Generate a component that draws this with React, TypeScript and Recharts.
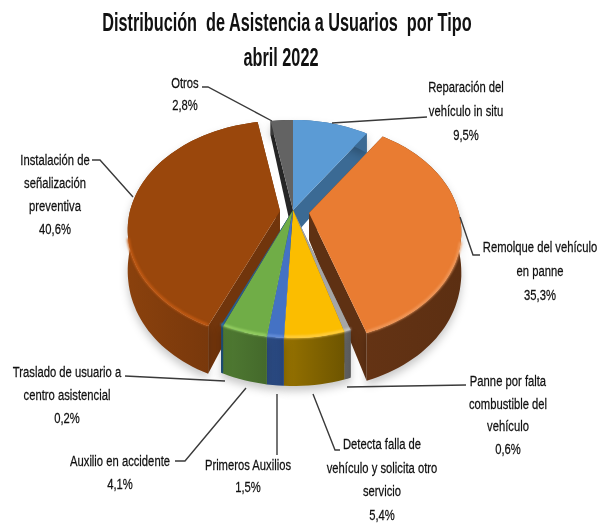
import { PieChart, Pie } from "recharts"

const categories = [
  "Reparación del vehículo in situ",
  "Remolque del vehículo en panne",
  "Panne por falta combustible del vehículo",
  "Detecta falla de vehículo y solicita otro servicio",
  "Primeros Auxilios",
  "Auxilio en accidente",
  "Traslado de usuario a centro asistencial",
  "Instalación de señalización preventiva",
  "Otros",
]
const shares = [9.5, 35.3, 0.6, 5.4, 1.5, 4.1, 0.2, 40.6, 2.8]
const colors = ["#5b9bd5", "#e97c32", "#a5a5a5", "#fbbd00", "#4472c4", "#70ad47", "#255e91", "#9a470c", "#636363"]
const cutColors = ["#3b6a94", "#5f3113", "#666666", "#8f6c00", "#2a4a80", "#4a7230", "#1c4a70", "#71350c", "#262626"]
const wallFrom = ["#3b6a94", "#643314", "#6a6a6a", "#967200", "#2c4c84", "#4f7a32", "#1c4a70", "#8a410d", "#3a3a3a"]
const wallTo = ["#3b6a94", "#5c2f12", "#5a5a5a", "#6e5500", "#26447a", "#44692b", "#1c4a70", "#6e330b", "#3a3a3a"]
const rimColors = ["#7fb4e4", "#f29a5c", "#c8c8c8", "#ffd04a", "#6a92dc", "#9ad466", "#3c80bc", "#c65c14", "#888888"]
const explodeX = [0, 16, 0, 0, 0, 0, 0, -13, 0]
const explodeY = [0, 3, 0, 0, 0, 0, 0, 1, 0]

// text lines of every label, last one is the share
const labelLines = [
  ["Reparación del", "vehículo in situ", "9,5%"],
  ["Remolque del vehículo", "en panne", "35,3%"],
  ["Panne por falta", "combustible del", "vehículo", "0,6%"],
  ["Detecta falla de", "vehículo y solicita otro", "servicio", "5,4%"],
  ["Primeros Auxilios", "1,5%"],
  ["Auxilio en accidente", "4,1%"],
  ["Traslado de usuario a", "centro asistencial", "0,2%"],
  ["Instalación de", "señalización", "preventiva", "40,6%"],
  ["Otros", "2,8%"],
]
const labelCenterX = [466, 540, 508, 382, 248, 120, 67, 55, 185]
const labelTopY = [92, 252, 386, 449, 470, 466, 377, 165, 88]
const labelStep = [24, 24, 22.7, 23.7, 22, 23, 23, 23, 22]
const leaders = [
  "427,117 332,123",
  "460,217 473,255 480,255",
  "347,387 466,385",
  "313,394 335,450 340,450",
  "277,394 277,455",
  "246,388 185,461 175,461",
  "125,376 225,381",
  "92,160 100,160 133,197",
  "202,87 208,87 272,121",
]

const data = categories.map((name, i) => ({ name, value: shares[i], fill: colors[i] }))

const TILT = 0.705
const PERSPECTIVE = 0.174
const APEX_DEPTH = 27
const FONT = "'Liberation Sans', sans-serif"

const rad = (d: number) => (d * Math.PI) / 180
const wallDepth = (v: number) => 38 - 17 * v - 7 * v * v

function arcPoint(cx: number, cy: number, r: number, theta: number) {
  const u = Math.sin(rad(theta))
  const v = Math.cos(rad(theta))
  const w = 1 + PERSPECTIVE * v
  return { x: cx + (r * u) / w, y: cy - (TILT * r * v) / w, d: wallDepth(v), v }
}

function arcPoints(cx: number, cy: number, r: number, from: number, to: number) {
  const n = Math.max(2, Math.ceil((to - from) / 2))
  const pts = []
  for (let i = 0; i <= n; i++) pts.push(arcPoint(cx, cy, r, from + ((to - from) * i) / n))
  return pts
}

const toPoly = (pts: { x: number; y: number }[]) => pts.map((p) => `${p.x.toFixed(1)},${p.y.toFixed(1)}`).join(" ")

function Slice(props: any, part: "cut" | "wall" | "top") {
  const { cx, cy, outerRadius, startAngle, endAngle, index } = props
  const ox = cx + explodeX[index]
  const oy = cy + explodeY[index]
  const pts = arcPoints(ox, oy, outerRadius, 90 - startAngle, 90 - endAngle)
  const first = pts[0]
  const last = pts[pts.length - 1]
  if (part === "top") {
    const front = pts.filter((p) => p.v < -0.25)
    return (
      <g>
        <polygon points={toPoly([{ x: ox, y: oy }, ...pts])} fill={colors[index]} />
        {front.length > 1 && (
          <polyline
            points={toPoly(front.map((p) => ({ x: p.x, y: p.y - 1 })))}
            fill="none"
            stroke={rimColors[index]}
            strokeWidth={2.5}
            style={{ filter: "blur(1px)" }}
          />
        )}
      </g>
    )
  }
  if (part === "cut") {
    const apexLow = { x: ox, y: oy + APEX_DEPTH }
    return (
      <g>
        <polygon
          points={toPoly([{ x: ox, y: oy }, first, { x: first.x, y: first.y + first.d }, apexLow])}
          fill={cutColors[index]}
        />
        <polygon
          points={toPoly([{ x: ox, y: oy }, last, { x: last.x, y: last.y + last.d }, apexLow])}
          fill={cutColors[index]}
        />
      </g>
    )
  }
  const gradId = `wall${index}`
  const band = [...pts, ...[...pts].reverse().map((p) => ({ ...p, y: p.y + p.d }))]
  return (
    <g>
      <defs>
        <linearGradient id={gradId} x1="0" y1="0" x2="1" y2="0">
          <stop offset="0%" stopColor={wallFrom[index]} />
          <stop offset="100%" stopColor={wallTo[index]} />
        </linearGradient>
      </defs>
      <polygon
        points={toPoly(band)}
        fill={`url(#${gradId})`}
        style={{ filter: "drop-shadow(0 5px 4px rgba(0,0,0,0.22))" }}
      />
    </g>
  )
}

function renderLabel(props: any) {
  const i = props.index
  const x = labelCenterX[i]
  return (
    <g key={i}>
      <polyline points={leaders[i]} fill="none" stroke="#3a3a3a" strokeWidth={1.4} />
      <text
        transform={`translate(${x} 0) scale(0.75 1)`}
        textAnchor="middle"
        fontFamily={FONT}
        fontSize={15}
        fill="#111"
        stroke="#111"
        strokeWidth={0.25}
      >
        {labelLines[i].map((line, k) => (
          <tspan key={k} x={0} y={labelTopY[i] + k * labelStep[i]}>
            {line}
          </tspan>
        ))}
      </text>
    </g>
  )
}

const pieProps = {
  data,
  dataKey: "value",
  nameKey: "name",
  cx: 293,
  cy: 210,
  outerRadius: 150,
  startAngle: 90,
  endAngle: -270,
  stroke: "none",
  isAnimationActive: false,
  labelLine: false,
}

export default function App() {
  return (
    <div
      style={{
        position: "absolute",
        left: 0,
        top: 0,
        width: 598,
        height: 523,
        background: "#fff",
        filter: "blur(0.35px)",
      }}
    >
      <div
        style={{
          position: "absolute",
          left: 0,
          top: 5,
          width: 572,
          textAlign: "center",
          fontFamily: FONT,
          fontWeight: 700,
          fontSize: 26,
          lineHeight: "35px",
          color: "#111",
          whiteSpace: "nowrap",
          transform: "translateX(-5px) scaleX(0.625)",
        }}
      >
        <div>Distribución&nbsp; de Asistencia a Usuarios&nbsp; por Tipo</div>
        <div>abril 2022</div>
      </div>
      <PieChart width={598} height={523} margin={{ top: 0, right: 0, bottom: 0, left: 0 }}>
        <Pie {...pieProps} shape={(p: any) => Slice(p, "cut")} />
        <Pie {...pieProps} shape={(p: any) => Slice(p, "wall")} />
        <Pie {...pieProps} label={renderLabel} shape={(p: any) => Slice(p, "top")} />
      </PieChart>
    </div>
  )
}
